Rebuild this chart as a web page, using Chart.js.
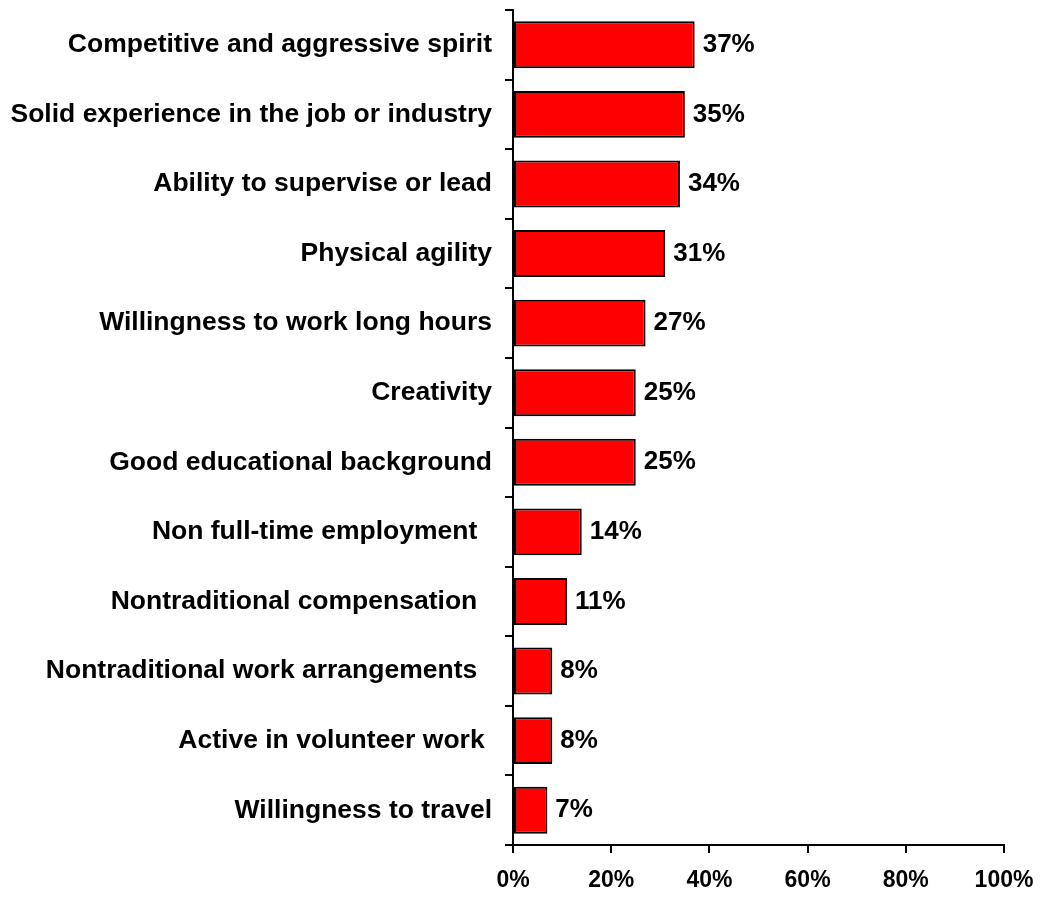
<!DOCTYPE html>
<html>
<head>
<meta charset="utf-8">
<script src="https://cdn.jsdelivr.net/npm/chart.js@4/dist/chart.umd.min.js"></script>
<style>
  html, body { margin: 0; padding: 0; background: #ffffff; }
  #wrap { position: relative; width: 1040px; height: 897px; }
</style>
</head>
<body>
<div id="wrap"><canvas id="chart"></canvas></div>
<script>
// Qualities named, share of respondents (%)
const categories = [
  'Competitive and aggressive spirit',
  'Solid experience in the job or industry',
  'Ability to supervise or lead',
  'Physical agility',
  'Willingness to work long hours',
  'Creativity',
  'Good educational background',
  'Non full-time employment  ',
  'Nontraditional compensation  ',
  'Nontraditional work arrangements  ',
  'Active in volunteer work ',
  'Willingness to travel'
];
const shares = [37, 35, 34, 31, 27, 25, 25, 14, 11, 8, 8, 7];
const axisTicks = [0, 20, 40, 60, 80, 100];

const FONT_FAMILY = '"Liberation Sans", Arial, Helvetica, sans-serif';

// Writes the percentage just past the end of each bar
const valueLabels = {
  id: 'valueLabels',
  afterDatasetsDraw(chart) {
    const ctx = chart.ctx;
    const meta = chart.getDatasetMeta(0);
    ctx.save();
    ctx.font = 'bold 26px ' + FONT_FAMILY;
    ctx.fillStyle = '#000000';
    ctx.textAlign = 'left';
    ctx.textBaseline = 'middle';
    meta.data.forEach((bar, i) => {
      ctx.fillText(shares[i] + '%', bar.x + 8, bar.y);
    });
    ctx.restore();
  }
};

new Chart(document.getElementById('chart'), {
  type: 'bar',
  data: {
    labels: categories,
    datasets: [{
      data: shares,
      backgroundColor: '#ff0000',
      borderColor: '#000000',
      borderWidth: 2,
      borderSkipped: false,
      barPercentage: 0.675,
      categoryPercentage: 1.0
    }]
  },
  options: {
    indexAxis: 'y',
    responsive: true,
    maintainAspectRatio: false,
    animation: false,
    layout: { padding: { left: 10, top: 10, right: 36, bottom: 0 } },
    plugins: {
      legend: { display: false },
      tooltip: { enabled: false }
    },
    scales: {
      x: {
        min: 0,
        max: 100,
        afterBuildTicks(scale) {
          scale.ticks = axisTicks.map(v => ({ value: v }));
        },
        afterFit(scale) {
          scale.height = 52;
          scale.paddingLeft = 0;
          scale.paddingRight = 0;
        },
        grid: {
          drawOnChartArea: false,
          drawTicks: true,
          tickLength: 8,
          color: '#000000',
          lineWidth: 2
        },
        border: { display: true, color: '#000000', width: 2 },
        ticks: {
          padding: 14,
          color: '#000000',
          font: { family: FONT_FAMILY, size: 23, weight: 'bold' },
          callback: v => v + '%'
        }
      },
      y: {
        afterFit(scale) {
          scale.width = 503;
          scale.paddingTop = 0;
          scale.paddingBottom = 0;
        },
        grid: {
          offset: true,
          drawOnChartArea: false,
          drawTicks: true,
          tickLength: 8,
          color: '#000000',
          lineWidth: 2
        },
        border: { display: true, color: '#000000', width: 2 },
        ticks: {
          padding: 13,
          autoSkip: false,
          color: '#000000',
          font: { family: FONT_FAMILY, size: 26.5, weight: 'bold' }
        }
      }
    }
  },
  plugins: [valueLabels]
});
</script>
</body>
</html>
